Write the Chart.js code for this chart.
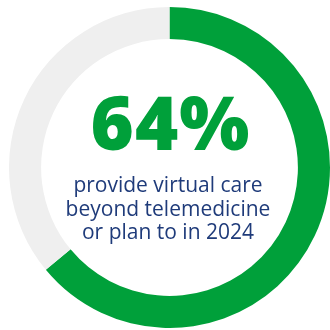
<!DOCTYPE html>
<html>
<head>
<meta charset="utf-8">
<script src="https://cdn.jsdelivr.net/npm/chart.js@4/dist/chart.umd.min.js"></script>
<style>
  html, body { margin: 0; padding: 0; background: #fff; overflow: hidden; }
  body { width: 330px; height: 330px; position: relative; }
  #wrap { position: absolute; left: 9px; top: 7px; width: 321px; height: 321px; }
  .big {
    position: absolute; left: 0; width: 341px; top: 82px; text-align: center;
    font-family: "Open Sans", sans-serif; font-weight: 800; font-size: 74px;
    line-height: 80px; color: #00a03a; letter-spacing: 1px;
  }
  .sub {
    position: absolute; left: 0; width: 336px; top: 173px; text-align: center;
    font-family: "Open Sans", sans-serif; font-size: 21px; line-height: 23.5px;
    color: #1f3b7a;
  }
</style>
</head>
<body>
<div id="wrap"><canvas id="ring"></canvas></div>
<div class="big" id="pct"></div>
<div class="sub">provide virtual care<br>beyond telemedicine<br>or plan to in 2024</div>
<script>
// share of respondents vs. the rest
const labels = ['Virtual care beyond telemedicine', 'Other'];
const values = [64, 36];
const colors = ['#00a03a', '#efefef'];

document.getElementById('pct').textContent = values[0] + '%';

new Chart(document.getElementById('ring'), {
  type: 'doughnut',
  data: {
    labels,
    datasets: [{
      data: values,
      backgroundColor: colors,
      borderWidth: 0,
    }],
  },
  options: {
    responsive: true,
    maintainAspectRatio: false,
    animation: false,
    cutout: '80%',
    layout: { padding: 0 },
    plugins: {
      legend: { display: false },
      tooltip: { enabled: false },
    },
  },
});
</script>
</body>
</html>
